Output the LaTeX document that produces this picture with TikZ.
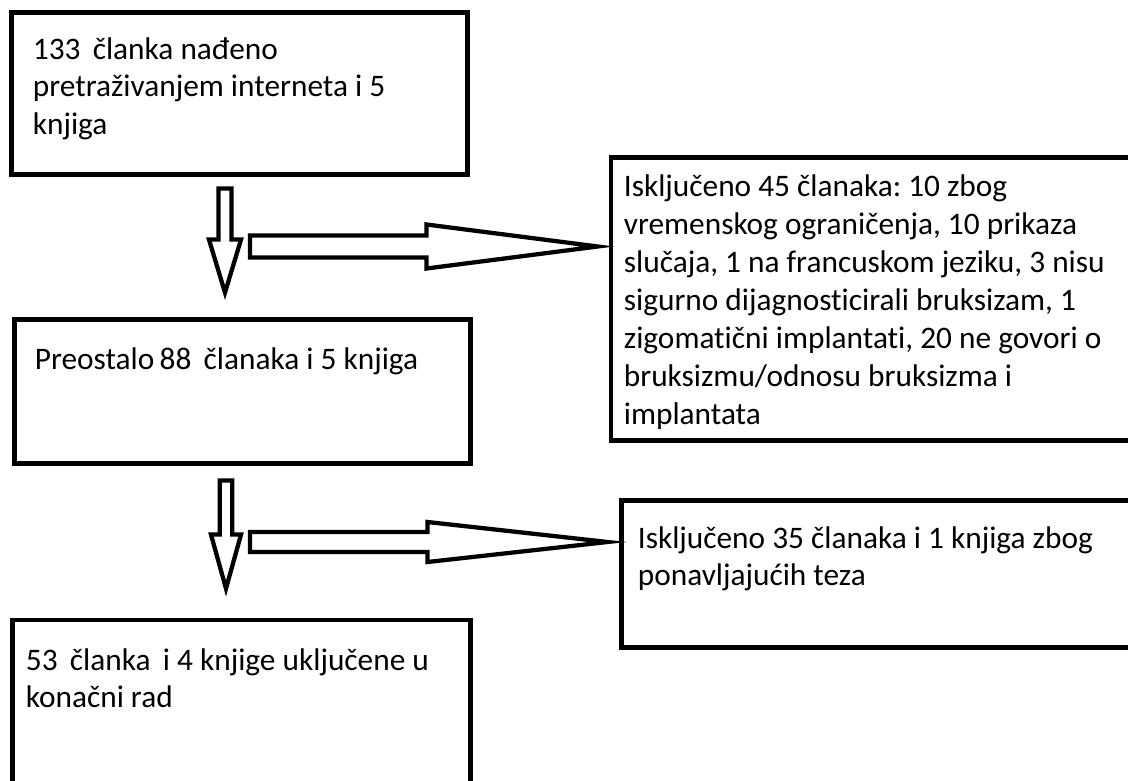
\documentclass[tikz,border=0pt]{standalone}
\usepackage{fontspec}
\setmainfont{Carlito}[Ligatures=NoCommon]
\usetikzlibrary{calc}
\frenchspacing

\tikzset{
    okvir/.style={draw, line width=3.6pt, rectangle, inner sep=0pt},
    tekst/.style={align=left, inner sep=0pt, anchor=base west,
        font=\fontsize{23.5}{28}\selectfont},
    strelica/.style={draw, line width=3.2pt, line join=miter, fill=white},
}

\begin{document}
\begin{tikzpicture}[x=0.75pt, y=-0.75pt]
    \useasboundingbox (0,0) rectangle (1128,781);
    \clip (0,0) rectangle (1128,781);

    % Left column
    \node[okvir, minimum width=342pt, minimum height=121.5pt] (b1) at (239.5,93.5) {};
    \node[okvir, minimum width=342pt, minimum height=108pt] (b2) at (242.5,391.5) {};
    \node[okvir, minimum width=343.5pt, minimum height=135pt] (b3) at (241.5,710) {};

    % Right column
    \node[okvir, minimum width=396.75pt, minimum height=212.25pt] (b4) at (875.5,299) {};
    \node[okvir, minimum width=388.9pt, minimum height=110.25pt] (b5) at (880.75,574) {};

    % Texts (base = last line)
    \node[tekst] (t1) at ($(b1.north west)+(23.5,124.2)$)
        {133 \,članka nađeno\\pretraživanjem interneta i 5\\knjiga};
    \node[tekst] (t2) at ($(b2.north west)+(22.5,52.5)$)
        {Preostalo\,88 \,članaka i 5 knjiga};
    \node[tekst] (t3) at ($(b3.north west)+(15.5,90.3)$)
        {53 \,članka \,i 4 knjige uključene u\\konačni rad};
    \node[tekst, font=\fontsize{23.5}{28.5}\selectfont] (t4) at ($(b4.north west)+(15,269.5)$)
        {Isključeno 45 članaka: 10 zbog\\vremenskog ograničenja, 10 prikaza\\slučaja, 1 na francuskom jeziku, 3 nisu\\sigurno dijagnosticirali bruksizam, 1\\zigomatični implantati, 20 ne govori o\\bruksizmu/odnosu bruksizma i\\implantata};
    \node[tekst] (t5) at ($(b5.north west)+(18.5,87.3)$)
        {Isključeno 35 članaka i 1 knjiga zbog\\ponavljajućih teza};

    % Down arrow 1
    \coordinate (d1s) at ($(b1.south)+(-14.5,11.5)$);
    \coordinate (d1e) at ($(d1s |- b2.north)+(0,-24.5)$);
    \draw[strelica] ($(d1s)+(-6.5,0)$) -- ($(d1s)+(6.5,0)$) -- ($(d1e)+(6.5,-53)$)
        -- ($(d1e)+(16,-53)$) -- (d1e) -- ($(d1e)+(-16,-53)$) -- ($(d1e)+(-6.5,-53)$) -- cycle;

    % Right arrow 1
    \coordinate (r1s) at (250,246.5);
    \coordinate (r1e) at ($(b4.west |- r1s)+(-11,0)$);
    \draw[strelica] ($(r1s)+(0,-11)$) -- ($(r1e)+(-171,-11)$) -- ($(r1e)+(-171,-22)$)
        -- (r1e) -- ($(r1e)+(-171,22)$) -- ($(r1e)+(-171,11)$) -- ($(r1s)+(0,11)$) -- cycle;

    % Down arrow 2
    \coordinate (d2s) at ($(b2.south)+(-16.5,14.5)$);
    \coordinate (d2e) at ($(d2s |- b3.north)+(0,-29)$);
    \draw[strelica] ($(d2s)+(-6.25,0)$) -- ($(d2s)+(6.25,0)$) -- ($(d2e)+(6.25,-54)$)
        -- ($(d2e)+(15,-54)$) -- (d2e) -- ($(d2e)+(-15,-54)$) -- ($(d2e)+(-6.25,-54)$) -- cycle;

    % Right arrow 2
    \coordinate (r2s) at (250,542);
    \coordinate (r2e) at ($(b5.west |- r2s)+(-11.5,0)$);
    \draw[strelica] ($(r2s)+(0,-10)$) -- ($(r2e)+(-180,-10)$) -- ($(r2e)+(-180,-20)$)
        -- (r2e) -- ($(r2e)+(-180,20)$) -- ($(r2e)+(-180,10)$) -- ($(r2s)+(0,10)$) -- cycle;
\end{tikzpicture}
\end{document}
